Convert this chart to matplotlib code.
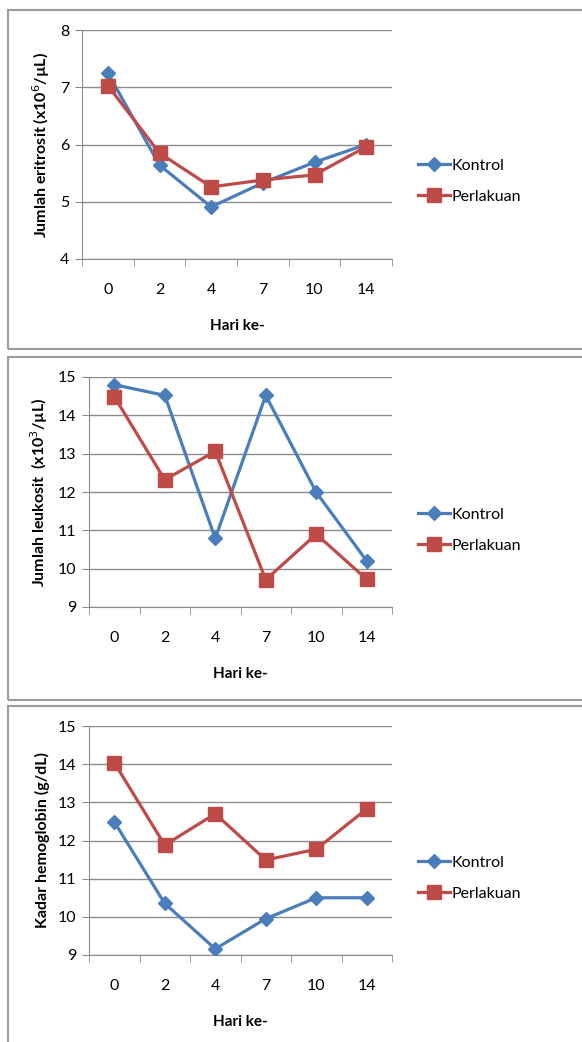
import matplotlib.pyplot as plt
from matplotlib.patches import Rectangle

plt.rcParams['font.family'] = ['Lato', 'DejaVu Sans']

hari = ["0", "2", "4", "7", "10", "14"]

eritrosit_kontrol = [7.25, 5.64, 4.91, 5.33, 5.69, 6.00]
eritrosit_perlakuan = [7.03, 5.85, 5.26, 5.38, 5.47, 5.96]

leukosit_kontrol = [14.80, 14.52, 10.79, 14.52, 11.99, 10.20]
leukosit_perlakuan = [14.49, 12.32, 13.06, 9.71, 10.90, 9.72]

hemoglobin_kontrol = [12.49, 10.35, 9.16, 9.95, 10.50, 10.50]
hemoglobin_perlakuan = [14.04, 11.88, 12.70, 11.49, 11.77, 12.83]

BLUE = "#4A7EBB"
RED = "#BE4B48"
GRID = "#8C8C8C"

W, H = 582, 1042
fig = plt.figure(figsize=(W / 100, H / 100), dpi=100)

# panel frames (pixel coords: left, top, bottom)
frames = [(8, 10, 349), (8, 357, 700), (8, 706, 1060)]
for x0, y0, y1 in frames:
    fig.patches.append(Rectangle((x0 / W, 1 - y1 / H), (W + 10 - x0) / W, (y1 - y0) / H,
                                 transform=fig.transFigure, fill=False,
                                 edgecolor="#9A9A9A", lw=1.5))

panels = [
    # (left px, top px, bottom px, legend centre px, ymin, ymax, ylabel, kontrol, perlakuan)
    (82, 30, 259, 181, 4, 8, "Jumlah eritrosit (x10$^{6}$/µL)", eritrosit_kontrol, eritrosit_perlakuan),
    (89, 377, 607, 530, 9, 15, "Jumlah leukosit  (x10$^{3}$/µL)", leukosit_kontrol, leukosit_perlakuan),
    (89, 726, 955, 878, 9, 15, "Kadar hemoglobin (g/dL)", hemoglobin_kontrol, hemoglobin_perlakuan),
]

x = list(range(len(hari)))
for left, top, bottom, leg_y, ymin, ymax, ylabel, kontrol, perlakuan in panels:
    ax = fig.add_axes([left / W, 1 - bottom / H, (392 - left) / W, (bottom - top) / H])
    ax.plot(x, kontrol, color=BLUE, lw=2.3, marker="D", markersize=7,
            label="Kontrol", zorder=3)
    ax.plot(x, perlakuan, color=RED, lw=2.3, marker="s", markersize=9.5,
            label="Perlakuan", zorder=3)

    ax.set_xlim(-0.5, len(hari) - 0.5)
    ax.set_ylim(ymin, ymax)
    ax.set_yticks(range(ymin, ymax + 1))
    ax.set_xticks(x)
    ax.set_xticklabels(hari)
    ax.set_xticks([i - 0.5 for i in range(len(hari) + 1)], minor=True)
    ax.tick_params(axis="x", which="major", length=0, pad=17, labelsize=11.5)
    ax.tick_params(axis="x", which="minor", length=5, color=GRID, direction="out")
    ax.tick_params(axis="y", length=5, color=GRID, labelsize=11.5, pad=4)

    ax.grid(axis="y", color=GRID, lw=1)
    ax.set_axisbelow(True)
    for side in ["top", "right"]:
        ax.spines[side].set_visible(False)
    for side in ["left", "bottom"]:
        ax.spines[side].set_color(GRID)

    ax.set_ylabel(ylabel, fontsize=11.5, fontweight="bold", labelpad=6)
    ax.set_xlabel("Hari ke-", fontsize=11, fontweight="bold", labelpad=16)

    ax.legend(loc="center left", bbox_to_anchor=(404 / W, 1 - leg_y / H),
              bbox_transform=fig.transFigure, frameon=False,
              fontsize=11.5, handlelength=2.0, handletextpad=0.1, labelspacing=1.05)

fig.savefig("out.png", dpi=100)
